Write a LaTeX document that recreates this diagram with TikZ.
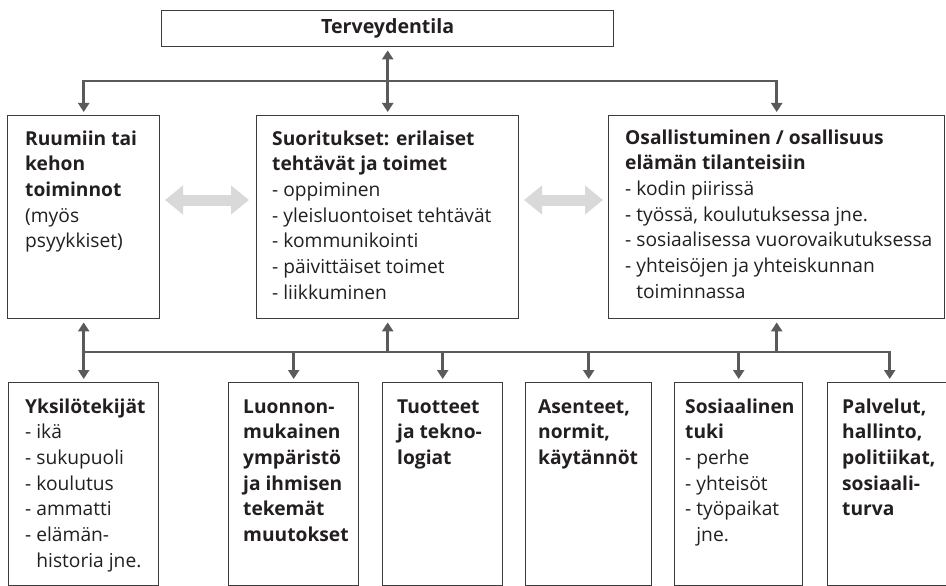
\documentclass[tikz,border=0pt]{standalone}
\usepackage{fontspec}
\setmainfont{Open Sans}
\usetikzlibrary{arrows.meta}
\definecolor{connc}{HTML}{5A5A5A}
\definecolor{boxc}{HTML}{3C3C3C}
\definecolor{fatc}{HTML}{D9D9D9}
\definecolor{textc}{HTML}{231F20}
\newcommand\tlines[1]{\begin{tabular}[t]{@{}l@{}}#1\end{tabular}}
\newcommand\ind{\phantom{- }}
\begin{document}
\begin{tikzpicture}[x=1pt,y=-1pt,
  box/.style={draw=boxc, line width=1.4pt, anchor=north west, inner sep=0, fill=white},
  txt/.style={anchor=base west, inner sep=0, text=textc, font=\fontsize{19.2}{25.7}\selectfont},
  conn/.style={draw=connc, line width=2.5pt},
  tip/.style={-{Triangle[length=9pt,width=11pt]}, shorten >=3pt},
  dtip/.style={{Triangle[length=9pt,width=11pt]}-{Triangle[length=9pt,width=11pt]}, shorten >=3pt, shorten <=3pt},
  fatarrow/.style={draw=fatc, line width=11pt, {Triangle[length=18pt,width=28pt]}-{Triangle[length=18pt,width=28pt]}}]
\useasboundingbox (0,0) rectangle (946,586);
\clip (0,0) rectangle (946,586);
% boxes
\node[box, minimum width=452pt, minimum height=36pt, text=textc, font=\fontsize{19.6}{22}\selectfont\bfseries] (T) at (161,10) {Terveydentila};
\node[box, minimum width=152pt, minimum height=203pt] (L) at (7,115) {};
\node[box, minimum width=262pt, minimum height=203pt] (M) at (256,115) {};
\node[box, minimum width=336pt, minimum height=203pt] (R) at (608,115) {};
\node[box, minimum width=150pt, minimum height=203pt] (B1) at (8,382) {};
\node[box, minimum width=130pt, minimum height=203pt] (B2) at (228,382) {};
\node[box, minimum width=120pt, minimum height=203pt] (B3) at (382,382) {};
\node[box, minimum width=126pt, minimum height=203pt] (B4) at (525,382) {};
\node[box, minimum width=128pt, minimum height=203pt] (B5) at (674,382) {};
\node[box, minimum width=124pt, minimum height=203pt] (B6) at (827,382) {};
% texts
\node[txt] (tL) at (25,145) {\tlines{\textbf{Ruumiin tai}\\ \textbf{kehon}\\ \textbf{toiminnot}\\ (myös\\ psyykkiset)}};
\node[txt] (tM) at (272,145) {\tlines{\textbf{Suoritukset: erilaiset}\\ \textbf{tehtävät ja toimet}\\ - oppiminen\\ - yleisluontoiset tehtävät\\ - kommunikointi\\ - päivittäiset toimet\\ - liikkuminen}};
\node[txt] (tR) at (625,144) {\tlines{\textbf{Osallistuminen / osallisuus}\\ \textbf{elämän tilanteisiin}\\ - kodin piirissä\\ - työssä, koulutuksessa jne.\\ - sosiaalisessa vuorovaikutuksessa\\ - yhteisöjen ja yhteiskunnan\\ \ind toiminnassa}};
\node[txt] (t1) at (25,413) {\tlines{\textbf{Yksilötekijät}\\ - ikä\\ - sukupuoli\\ - koulutus\\ - ammatti\\ - elämän-\\ \ind historia jne.}};
\node[txt] (t2) at (243,413) {\tlines{\textbf{Luonnon-}\\ \textbf{mukainen}\\ \textbf{ympäristö}\\ \textbf{ja ihmisen}\\ \textbf{tekemät}\\ \textbf{muutokset}}};
\node[txt] (t3) at (397,413) {\tlines{\textbf{Tuotteet}\\ \textbf{ja tekno-}\\ \textbf{logiat}}};
\node[txt] (t4) at (538,413) {\tlines{\textbf{Asenteet,}\\ \textbf{normit,}\\ \textbf{käytännöt}}};
\node[txt] (t5) at (685,413) {\tlines{\textbf{Sosiaalinen}\\ \textbf{tuki}\\ - perhe\\ - yhteisöt\\ - työpaikat\\ \ind jne.}};
\node[txt] (t6) at (842,413) {\tlines{\textbf{Palvelut,}\\ \textbf{hallinto,}\\ \textbf{politiikat,}\\ \textbf{sosiaali-}\\ \textbf{turva}}};
% top connectors
\coordinate (tj) at (387,81);
\draw[conn, dtip] (T.south) -- (M.north);
\draw[conn, tip] (tj) -| (L.north);
\draw[conn, tip] (tj) -| (R.north);
% bottom connectors
\coordinate (bj) at (387,352);
\draw[conn, line cap=rect] (B1.north |- bj) -- (B6.north |- bj);
\draw[conn, dtip] (L.south) -- (B1.north);
\draw[conn, tip] (M.south |- bj) -- (M.south);
\draw[conn, tip] (R.south |- bj) -- (R.south);
\draw[conn, tip] (B2.north |- bj) -- (B2.north);
\draw[conn, tip] (B3.north |- bj) -- (B3.north);
\draw[conn, tip] (B4.north |- bj) -- (B4.north);
\draw[conn, tip] (B5.north |- bj) -- (B5.north);
\draw[conn, tip] (B6.north |- bj) -- (B6.north);
% grey double arrows
\coordinate (g1a) at (165,200);
\coordinate (g1b) at (249,200);
\coordinate (g2a) at (524,200);
\coordinate (g2b) at (603,200);
\draw[fatarrow] (g1a) -- (g1b);
\draw[fatarrow] (g2a) -- (g2b);
\end{tikzpicture}
\end{document}
